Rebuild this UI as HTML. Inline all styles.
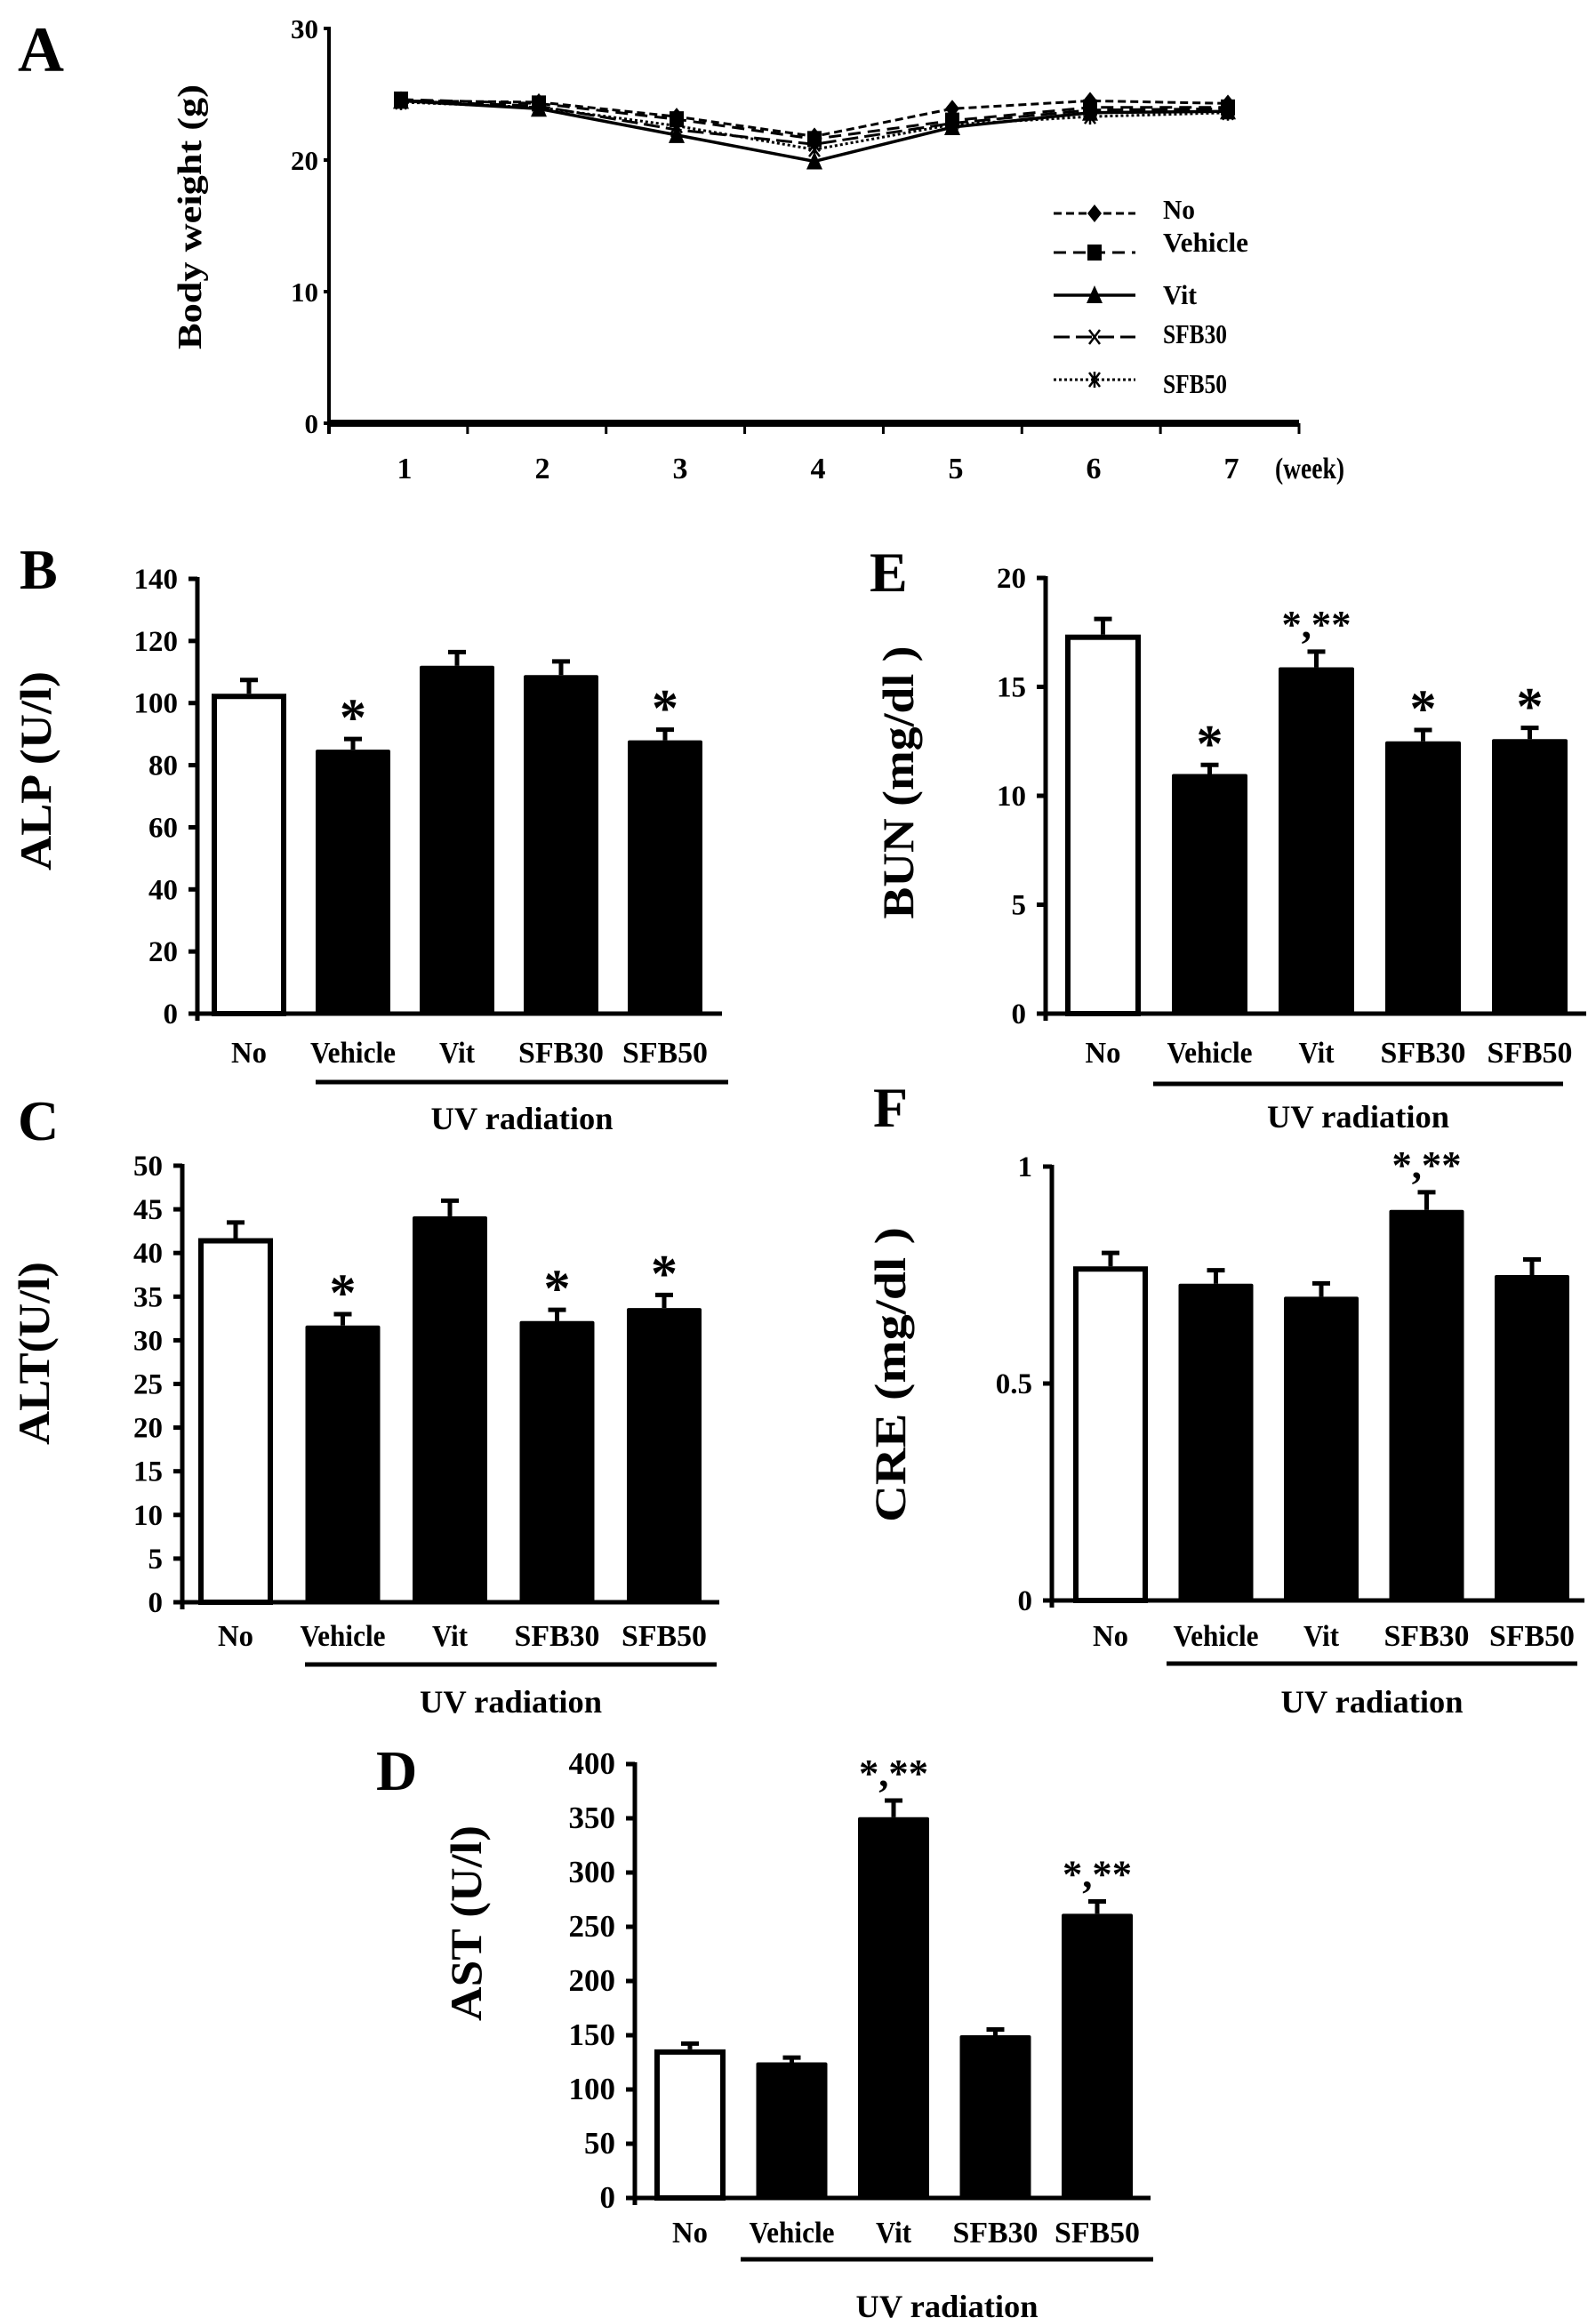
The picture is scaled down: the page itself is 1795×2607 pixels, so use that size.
<!DOCTYPE html>
<html><head><meta charset="utf-8">
<style>
html,body{margin:0;padding:0;background:#fff;}
svg{display:block;}
text{font-family:"Liberation Serif","Times New Roman",serif;font-weight:bold;fill:#000;}
</style></head>
<body>
<svg id="fig" width="1795" height="2607" viewBox="0 0 1795 2607" xmlns="http://www.w3.org/2000/svg">
<rect width="1795" height="2607" fill="#fff"/>
<g id="panelA"></g>
<g id="panelB"></g>
<g id="panelC"></g>
<g id="panelD"></g>
<g id="panelE"></g>
<g id="panelF"></g>
</svg>
<script>
// ---------- data ----------
const weeks = [1,2,3,4,5,6,7];
const bwNo      = [24.5,24.4,23.3,21.8,23.9,24.5,24.3];
const bwVehicle = [24.6,24.3,23.1,21.6,23.0,24.0,24.0];
const bwVit     = [24.5,23.9,21.9,19.9,22.5,23.6,23.7];
const bwSFB30   = [24.5,24.1,22.3,21.2,22.8,23.8,23.9];
const bwSFB50   = [24.4,24.0,22.6,20.8,22.7,23.3,23.6];
const bwTicks   = [0,10,20,30];

const cats = ["No","Vehicle","Vit","SFB30","SFB50"];
const alpVals = [103,85,112,109,88];
const alpErr  = [5,4,5,5,4];
const alpSig  = ["","*","","","*"];
const alpTicks = [0,20,40,60,80,100,120,140];

const altVals = [41.7,31.7,44.2,32.2,33.7];
const altErr  = [2.0,1.5,2.0,1.5,1.7];
const altSig  = ["","*","","*","*"];
const altTicks = [0,5,10,15,20,25,30,35,40,45,50];

const astVals = [137,125,351,150,262];
const astErr  = [7,6,17,7,13];
const astSig  = ["","","*,**","","*,**"];
const astTicks = [0,50,100,150,200,250,300,350,400];

const bunVals = [17.4,11.0,15.9,12.5,12.6];
const bunErr  = [0.8,0.5,0.8,0.6,0.6];
const bunSig  = ["","*","*,**","*","*"];
const bunTicks = [0,5,10,15,20];

const creVals = [0.77,0.73,0.70,0.90,0.75];
const creErr  = [0.035,0.035,0.035,0.045,0.04];
const creSig  = ["","","","*,**",""];
const creTicks = [0,0.5,1];
const creTickLabels = ["0","0.5","1"];

// ---------- helpers ----------
const NS = "http://www.w3.org/2000/svg";
function mk(tag, attrs, parent){
  const e = document.createElementNS(NS, tag);
  for (const k in attrs) e.setAttribute(k, attrs[k]);
  parent.appendChild(e);
  return e;
}
function txt(parent, s, x, y, size, anchor, extra){
  const t = mk("text", Object.assign({x:x, y:y, "font-size":size, "text-anchor":anchor||"start"}, extra||{}), parent);
  t.textContent = s;
  return t;
}
const catWidths = {"No":40,"Vehicle":96,"Vit":40,"SFB30":96,"SFB50":96};
const legWidths = {"No":36,"Vehicle":96,"Vit":38,"SFB30":72,"SFB50":72};

function barChart(g, cfg){
  const ys = v => cfg.y0 - (v / cfg.max) * (cfg.y0 - cfg.yTop);
  const xs = i => cfg.bar0 + i * cfg.step;
  const L = txt(g, cfg.letter, cfg.letterX, cfg.letterY, 64);
  
  
  const yt = txt(g, cfg.title, 0, 0, 50, "middle", {transform:`translate(${cfg.titleX},${cfg.titleY}) rotate(-90)`, dy:"17", textLength:cfg.titleLen, lengthAdjust:"spacingAndGlyphs"});
  
  
  cfg.vals.forEach((v,i)=>{
    const x = xs(i), top = ys(v), et = ys(v + cfg.err[i]);
    const cx = x + cfg.w/2;
    const eb = mk("line", {x1:cx, x2:cx, y1:top, y2:et, stroke:"#000", "stroke-width":5}, g);
    
    
    const cap = mk("line", {x1:cx-10, x2:cx+10, y1:et+2, y2:et+2, stroke:"#000", "stroke-width":5}, g);
    
    
    let r;
    if (i === 0) r = mk("rect", {x:x+3, y:top+3, width:cfg.w-6, height:cfg.y0-top-3, fill:"#fff", stroke:"#000", "stroke-width":6}, g);
    else r = mk("rect", {x:x, y:top, width:cfg.w, height:cfg.y0-top, fill:"#000", rx:2}, g);
    
    
    if (cfg.sig[i]) {
      const single = cfg.sig[i] === "*";
      const extra = single ? {} : {textLength:78, lengthAdjust:"spacingAndGlyphs"};
      const s = txt(g, cfg.sig[i], cx, et - (single ? 2 : 14), single ? 60 : 44, "middle", extra);
      
      
    }
    const cl = txt(g, cats[i], cx, cfg.catY + 12, 34, "middle", {textLength:catWidths[cats[i]], lengthAdjust:"spacingAndGlyphs"});
    
    
  });
  const ya = mk("line", {x1:cfg.axisX, x2:cfg.axisX, y1:cfg.yTop-2, y2:cfg.y0+8, stroke:"#000", "stroke-width":5}, g);
  
  
  const xa = mk("line", {x1:cfg.axisX-8, x2:cfg.axisEnd, y1:cfg.y0, y2:cfg.y0, stroke:"#000", "stroke-width":5}, g);
  
  
  cfg.ticks.forEach((t,i)=>{
    const y = ys(t);
    const tk = mk("line", {x1:cfg.axisX-10, x2:cfg.axisX, y1:y, y2:y, stroke:"#000", "stroke-width":5}, g);
    
    
    const lab = cfg.tickLabels ? cfg.tickLabels[i] : String(t);
    const tl = txt(g, lab, cfg.axisX-22, y+11, cfg.tickSize||33, "end");
    
    
  });
  const uv = mk("line", {x1:cfg.uvX1, x2:cfg.uvX2, y1:cfg.uvY, y2:cfg.uvY, stroke:"#000", "stroke-width":5}, g);
  
  
  const ut = txt(g, "UV radiation", (cfg.uvX1+cfg.uvX2)/2, cfg.uvTextY, 36, "middle", {textLength:205, lengthAdjust:"spacingAndGlyphs"});
  
  
}

barChart(document.getElementById("panelB"), {letter:"B", letterX:22, letterY:662, title:"ALP (U/l)", titleX:40, titleY:867, titleLen:224,
  vals:alpVals, err:alpErr, sig:alpSig, ticks:alpTicks, max:140, axisX:222, y0:1140, yTop:651, bar0:238, step:117, w:84, axisEnd:812,
  catY:1183, uvX1:355, uvX2:819, uvY:1217, uvTextY:1270});
barChart(document.getElementById("panelE"), {letter:"E", letterX:978, letterY:665, title:"BUN (mg/dl )", titleX:1010, titleY:880, titleLen:307,
  vals:bunVals, err:bunErr, sig:bunSig, ticks:bunTicks, max:20, axisX:1176, y0:1140, yTop:650, bar0:1198, step:120, w:85, axisEnd:1784,
  catY:1183, uvX1:1297, uvX2:1758, uvY:1219, uvTextY:1268});
barChart(document.getElementById("panelC"), {letter:"C", letterX:20, letterY:1282, title:"ALT(U/l)", titleX:38, titleY:1522, titleLen:206,
  vals:altVals, err:altErr, sig:altSig, ticks:altTicks, max:50, axisX:205, y0:1802, yTop:1311, bar0:223, step:120.5, w:84, axisEnd:809,
  catY:1839, uvX1:343, uvX2:806, uvY:1872, uvTextY:1926});
barChart(document.getElementById("panelF"), {letter:"F", letterX:982, letterY:1267, title:"CRE (mg/dl )", titleX:1001, titleY:1546, titleLen:332,
  vals:creVals, err:creErr, sig:creSig, ticks:creTicks, tickLabels:creTickLabels, max:1, axisX:1183, y0:1800, yTop:1312, bar0:1207, step:118.5, w:84, axisEnd:1782,
  catY:1839, uvX1:1312, uvX2:1774, uvY:1871, uvTextY:1926});
barChart(document.getElementById("panelD"), {letter:"D", letterX:423, letterY:2013, title:"AST (U/l)", titleX:524, titleY:2163, titleLen:220,
  vals:astVals, err:astErr, sig:astSig, ticks:astTicks, max:400, axisX:714, y0:2472, yTop:1984, bar0:736, step:114.5, w:80, axisEnd:1294,
  catY:2510, uvX1:833, uvX2:1297, uvY:2541, uvTextY:2606, tickSize:35});

// ---------- Panel A line chart ----------
(function(){
  const g = document.getElementById("panelA");
  const ax = 370, y0 = 476, yTop = 32, xEnd = 1461;
  const xs = w => 451 + (w - 1) * 155;
  const ys = v => y0 - v / 30 * (y0 - yTop);
  const L = txt(g, "A", 20, 80, 72);
  
  
  const yt = txt(g, "Body weight (g)", 0, 0, 38, "middle", {transform:`translate(213,244) rotate(-90)`, dy:"13", textLength:298, lengthAdjust:"spacingAndGlyphs"});
  
  
  const ya = mk("line", {x1:ax, x2:ax, y1:yTop-2, y2:y0+12, stroke:"#000", "stroke-width":4}, g);
  
  
  const xa = mk("line", {x1:ax, x2:xEnd, y1:y0, y2:y0, stroke:"#000", "stroke-width":8}, g);
  
  
  bwTicks.forEach(t=>{
    const y = ys(t);
    const tk = mk("line", {x1:ax-6, x2:ax, y1:y, y2:y, stroke:"#000", "stroke-width":4}, g);
    
    
    const tl = txt(g, String(t), ax-12, y+11, 31, "end", {"font-weight":"normal"});
    
    
  });
  weeks.forEach(w=>{
    const tx = ax + w * ((xEnd - ax) / 7);
    const tk = mk("line", {x1:tx, x2:tx, y1:y0, y2:y0+12, stroke:"#000", "stroke-width":3}, g);
    
    
    const tl = txt(g, String(w), xs(w)+4, 538, 34, "middle");
    
    
  });
  const wk = txt(g, "(week)", 1473, 538, 34, "middle", {textLength:78, lengthAdjust:"spacingAndGlyphs"});
  
  

  function marker(parent, type, x, y){
    let m;
    if (type === "diamond") m = mk("polygon", {points:`${x},${y-10} ${x+8},${y} ${x},${y+10} ${x-8},${y}`, fill:"#000"}, parent);
    else if (type === "square") m = mk("rect", {x:x-8, y:y-9, width:16, height:18, fill:"#000"}, parent);
    else if (type === "triangle") m = mk("polygon", {points:`${x},${y-11} ${x+9},${y+9} ${x-9},${y+9}`, fill:"#000"}, parent);
    else if (type === "x") m = mk("path", {d:`M${x-6},${y-8}L${x+6},${y+8}M${x+6},${y-8}L${x-6},${y+8}`, stroke:"#000", "stroke-width":2.5, fill:"none"}, parent);
    else m = mk("path", {d:`M${x-6},${y-8}L${x+6},${y+8}M${x+6},${y-8}L${x-6},${y+8}M${x},${y-9}L${x},${y+9}`, stroke:"#000", "stroke-width":2.5, fill:"none"}, parent);
    
    
  }
  const series = [
    {name:"No", vals:bwNo, dash:"9,5", m:"diamond", w:3},
    {name:"Vehicle", vals:bwVehicle, dash:"14,8", m:"square", w:3},
    {name:"Vit", vals:bwVit, dash:"none", m:"triangle", w:3.5},
    {name:"SFB30", vals:bwSFB30, dash:"18,7", m:"x", w:3},
    {name:"SFB50", vals:bwSFB50, dash:"3,3", m:"star", w:3}
  ];
  const legY = [240, 284, 332, 379, 427];
  const legTextY = [236, 273, 332, 376, 432];
  series.forEach((s, k)=>{
    const sg = mk("g", {}, g);
    
    
    const pts = s.vals.map((v,i)=>`${xs(weeks[i])},${ys(v)}`).join(" ");
    const pl = mk("polyline", {points:pts, fill:"none", stroke:"#000", "stroke-width":s.w, "stroke-dasharray":s.dash}, sg);
    
    
    s.vals.forEach((v,i)=>marker(sg, s.m, xs(weeks[i]), ys(v)));
    const lg = mk("g", {}, g);
    
    
    mk("line", {x1:1185, x2:1277, y1:legY[k], y2:legY[k], stroke:"#000", "stroke-width":s.w, "stroke-dasharray":s.dash}, lg);
    marker(lg, s.m, 1231, legY[k]);
    const lt = txt(lg, s.name, 1308, legTextY[k]+10, 31, "start", {textLength:legWidths[s.name], lengthAdjust:"spacingAndGlyphs"});
    
    
  });
})();
</script>
</body></html>
